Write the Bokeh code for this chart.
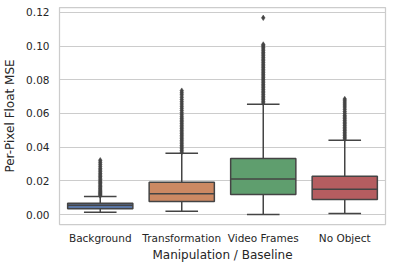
from bokeh.plotting import figure
from bokeh.models import FactorRange, FixedTicker, NumeralTickFormatter, ColumnDataSource
from bokeh.transform import dodge
from bokeh.embed import file_html
from bokeh.resources import INLINE

categories = ["Background", "Transformation", "Video Frames", "No Object"]
colors = ["#5975a4", "#cc8963", "#5f9e6e", "#b55d60"]
q1 = [0.0034, 0.0077, 0.0119, 0.0089]
median = [0.0055, 0.0123, 0.0210, 0.0150]
q3 = [0.0067, 0.0192, 0.0332, 0.0227]
whisker_lo = [0.0014, 0.0020, 0.0000, 0.0006]
whisker_hi = [0.0107, 0.0364, 0.0655, 0.0441]
y_ticks = [0.00, 0.02, 0.04, 0.06, 0.08, 0.10, 0.12]

outliers_background = [0.0112, 0.0118, 0.0124, 0.0130, 0.0137, 0.0144, 0.0151, 0.0158,
                       0.0166, 0.0174, 0.0182, 0.0190, 0.0198, 0.0207, 0.0216, 0.0225,
                       0.0234, 0.0244, 0.0254, 0.0264, 0.0274, 0.0286, 0.0298, 0.0310, 0.0322]
outliers_transformation = [0.0370, 0.0380, 0.0390, 0.0400, 0.0410, 0.0420, 0.0430, 0.0440,
                           0.0450, 0.0460, 0.0470, 0.0480, 0.0490, 0.0500, 0.0510, 0.0520,
                           0.0530, 0.0540, 0.0550, 0.0560, 0.0570, 0.0580, 0.0592, 0.0604,
                           0.0617, 0.0630, 0.0643, 0.0656, 0.0669, 0.0682, 0.0696, 0.0710,
                           0.0722, 0.0735]
outliers_video = [0.0662, 0.0672, 0.0682, 0.0692, 0.0702, 0.0712, 0.0722, 0.0732, 0.0742,
                  0.0752, 0.0762, 0.0772, 0.0782, 0.0792, 0.0802, 0.0812, 0.0822, 0.0832,
                  0.0842, 0.0852, 0.0862, 0.0872, 0.0882, 0.0892, 0.0902, 0.0912, 0.0922,
                  0.0932, 0.0942, 0.0952, 0.0962, 0.0972, 0.0982, 0.0992, 0.1001, 0.1009,
                  0.1167]
outliers_noobject = [0.0448, 0.0458, 0.0468, 0.0478, 0.0488, 0.0498, 0.0508, 0.0518,
                     0.0528, 0.0538, 0.0548, 0.0558, 0.0568, 0.0578, 0.0588, 0.0600,
                     0.0612, 0.0625, 0.0638, 0.0650, 0.0662, 0.0674, 0.0685]
outliers = [outliers_background, outliers_transformation, outliers_video, outliers_noobject]

FONT = "DejaVu Sans"
TEXT = "#262626"
EDGE = "#444444"

p = figure(width=392, height=264, output_backend="svg", toolbar_location=None,
           x_range=FactorRange(factors=categories, range_padding=0),
           y_range=(-0.00593, 0.12285),
           min_border_left=50, min_border_right=7, min_border_top=7, min_border_bottom=40)

src = ColumnDataSource(dict(cat=categories, color=colors, q1=q1, q3=q3, med=median,
                            lo=whisker_lo, hi=whisker_hi))

# whiskers
p.segment(x0="cat", x1="cat", y0="q3", y1="hi", source=src, line_color=EDGE, line_width=1.5)
p.segment(x0="cat", x1="cat", y0="q1", y1="lo", source=src, line_color=EDGE, line_width=1.5)
# caps
p.segment(x0=dodge("cat", -0.2, range=p.x_range), x1=dodge("cat", 0.2, range=p.x_range),
          y0="hi", y1="hi", source=src, line_color=EDGE, line_width=1.5)
p.segment(x0=dodge("cat", -0.2, range=p.x_range), x1=dodge("cat", 0.2, range=p.x_range),
          y0="lo", y1="lo", source=src, line_color=EDGE, line_width=1.5)
# boxes
p.vbar(x="cat", top="q3", bottom="q1", width=0.8, source=src, fill_color="color",
       line_color=EDGE, line_width=1.5)
# medians
p.segment(x0=dodge("cat", -0.4, range=p.x_range), x1=dodge("cat", 0.4, range=p.x_range),
          y0="med", y1="med", source=src, line_color=EDGE, line_width=1.5)

# outliers
ox, oy = [], []
for c, vals in zip(categories, outliers):
    ox += [c] * len(vals)
    oy += vals
p.scatter(x=ox, y=oy, marker="diamond", size=5.5, fill_color=EDGE, line_color=EDGE, line_width=0.5)

p.xgrid.grid_line_color = None
p.ygrid.grid_line_color = "#cccccc"
p.ygrid.grid_line_width = 1
p.outline_line_color = "#cccccc"
p.outline_line_width = 1.25
p.background_fill_color = "white"
p.border_fill_color = "white"

p.yaxis.ticker = FixedTicker(ticks=y_ticks)
p.yaxis.formatter = NumeralTickFormatter(format="0.00")

for ax in (p.xaxis[0], p.yaxis[0]):
    ax.axis_line_color = None
    ax.major_tick_line_color = None
    ax.minor_tick_line_color = None
    ax.major_tick_out = 0
    ax.major_label_text_font = FONT
    ax.major_label_text_font_size = "10.5px"
    ax.major_label_text_color = TEXT
    ax.axis_label_text_font = FONT
    ax.axis_label_text_font_size = "12px"
    ax.axis_label_text_font_style = "normal"
    ax.axis_label_text_color = TEXT

p.xaxis.axis_label = "Manipulation / Baseline"
p.yaxis.axis_label = "Per-Pixel Float MSE"
p.xaxis.major_label_standoff = 7
p.xaxis.axis_label_standoff = 1
p.yaxis.major_label_standoff = 10
p.yaxis.axis_label_standoff = 6

open("out.html", "w").write(file_html(p, INLINE))
